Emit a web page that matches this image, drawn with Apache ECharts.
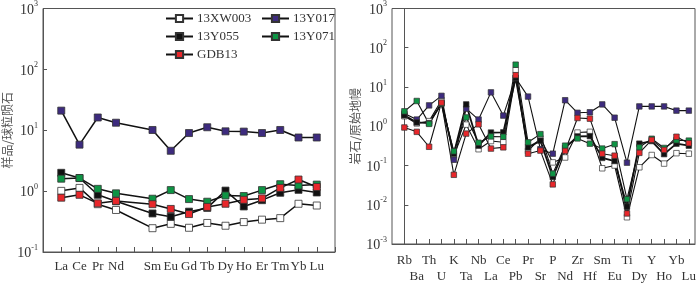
<!DOCTYPE html>
<html><head><meta charset="utf-8">
<script src="https://cdn.jsdelivr.net/npm/echarts@6/dist/echarts.min.js"></script>
<style>html,body{margin:0;padding:0;background:#fff}#c{width:700px;height:285px}</style>
</head><body><div id="c"></div>
<script>
// ---- data ----
const seriesNames = ['13XW003','13Y017','13Y055','13Y071','GDB13'];
// REE chondrite-normalized (Pm has no value)
const reeLabels = ['La','Ce','Pr','Nd','','Sm','Eu','Gd','Tb','Dy','Ho','Er','Tm','Yb','Lu'];
const ree_13XW003 = [1.01,1.13,0.61,0.49,null,0.246,0.29,0.25,0.30,0.27,0.31,0.34,0.36,0.62,0.58];
const ree_13Y017  = [21,5.8,16.2,13.3,null,10.1,4.6,9.0,11.2,9.6,9.5,9.0,10.1,7.6,7.6];
const ree_13Y055  = [2.0,1.64,0.87,0.68,null,0.43,0.38,0.46,0.53,1.02,0.56,0.71,0.94,1.05,0.95];
const ree_13Y071  = [1.6,1.64,1.09,0.92,null,0.75,1.04,0.74,0.67,0.85,0.83,1.04,1.3,1.24,1.28];
const ree_GDB13   = [0.78,0.87,0.63,0.69,null,0.61,0.51,0.42,0.55,0.62,0.72,0.76,1.13,1.55,1.17];
// Spider diagram, primitive-mantle normalized
const spLabels = ['Rb','Ba','Th','U','K','Ta','Nb','La','Ce','Pb','Pr','Sr','P','Nd','Zr','Hf','Sm','Eu','Ti','Dy','Y','Ho','Yb','Lu'];
const sp_13XW003 = [1.8,1.18,1.35,4.6,0.18,1.1,0.26,0.42,0.39,27,0.235,0.49,0.12,0.16,0.69,0.72,0.085,0.1,0.0048,0.09,0.185,0.112,0.206,0.2];
const sp_13Y017  = [2.1,1.48,3.4,5.95,0.14,2.8,1.48,7.3,1.87,17,5.7,0.26,0.2,4.6,2.2,2.27,3.6,1.65,0.118,3.2,3.2,3.2,2.5,2.5];
const sp_13Y055  = [1.9,1.25,1.2,3.8,0.2,3.6,0.32,0.69,0.7,17,0.29,0.43,0.051,0.28,0.55,0.56,0.156,0.13,0.009,0.36,0.42,0.195,0.36,0.32];
const sp_13Y071  = [2.4,4.4,1.15,3.8,0.23,1.68,0.38,0.55,0.54,37,0.39,0.63,0.062,0.32,0.49,0.36,0.27,0.35,0.0139,0.29,0.48,0.28,0.44,0.43];
const sp_GDB13   = [0.93,0.72,0.30,4.0,0.058,0.65,1.12,0.27,0.29,20,0.2,0.24,0.033,0.235,1.62,1.56,0.2,0.178,0.006,0.21,0.45,0.25,0.54,0.37];

// ---- styling ----
const fills = {'13XW003':'#ffffff','13Y017':'#3d2b7e','13Y055':'#111111','13Y071':'#0e9444','GDB13':'#e8272b'};
const reeData = {'13XW003':ree_13XW003,'13Y017':ree_13Y017,'13Y055':ree_13Y055,'13Y071':ree_13Y071,'GDB13':ree_GDB13};
const spData = {'13XW003':sp_13XW003,'13Y017':sp_13Y017,'13Y055':sp_13Y055,'13Y071':sp_13Y071,'GDB13':sp_GDB13};
const serif = 'Liberation Serif';
const axisCol = '#555';
const txtCol = '#333';

function yLabel(v){
  const e = Math.round(Math.log10(v));
  return '{b|10}{s|' + e + '}';
}
const yRich = {
  b:{fontFamily:serif,fontSize:14,color:txtCol,verticalAlign:'bottom'},
  s:{fontFamily:serif,fontSize:8,color:txtCol,verticalAlign:'top',padding:[0,0,9,0]}
};
function yAxis(gridIndex, min, max, name, nameGap){
  return {
    type:'log', gridIndex, min, max, logBase:10,
    axisLine:{show:true,lineStyle:{color:axisCol,width:1}},
    axisTick:{show:true,inside:true,length:4,lineStyle:{color:axisCol}},
    splitLine:{show:false},
    minorTick:{show:false},
    axisLabel:{formatter:yLabel,rich:yRich,margin:5},
    name, nameLocation:'middle', nameGap, nameRotate:90,
    nameTextStyle:{fontFamily:'Noto Sans CJK SC',fontSize:12,color:'#555'}
  };
}

const series = [];
seriesNames.forEach(n=>{
  series.push({
    name:n, type:'line', xAxisIndex:0, yAxisIndex:0,
    data: reeData[n].map((v,i)=>[i+1,v]),
    connectNulls:true,
    symbol:'rect', symbolSize:7,
    lineStyle:{color:'#111',width:1.5},
    itemStyle:{color:fills[n],borderColor:'#333',borderWidth:0.8},
    emphasis:{disabled:true}, animation:false, z:2
  });
  series.push({
    name:n, type:'line', xAxisIndex:1, yAxisIndex:1,
    data: spData[n].map((v,i)=>[i,v]),
    symbol:'rect', symbolSize:5.5,
    lineStyle:{color:'#111',width:n==='13Y055'?1.8:1.1},
    itemStyle:{color:fills[n],borderColor:'#333',borderWidth:0.7},
    emphasis:{disabled:true}, animation:false, z:2
  });
});

const legendBase = {
  orient:'vertical', itemWidth:27, itemHeight:9, itemGap:5,
  textStyle:{fontFamily:serif,fontSize:13,color:txtCol,padding:[0,0,0,-1]},
  selectedMode:false
};

const option = {
  animation:false,
  grid:[
    {left:42, top:4, width:293, height:248, show:true, borderColor:axisCol, borderWidth:1},
    {left:392, top:2, width:303, height:247, show:true, borderColor:axisCol, borderWidth:1}
  ],
  legend:[
    Object.assign({},legendBase,{left:160, top:7, data:['13XW003','13Y055','GDB13']}),
    Object.assign({},legendBase,{left:256, top:7, data:['13Y017','13Y071']})
  ],
  xAxis:[
    {type:'value', gridIndex:0, min:0, max:16, interval:1,
     axisLine:{show:true,lineStyle:{color:axisCol}},
     axisTick:{show:true,inside:true,length:5,lineStyle:{color:axisCol}},
     splitLine:{show:false},
     axisLabel:{margin:8,fontFamily:serif,fontSize:13,color:txtCol,
       formatter:v=>(v>=1&&v<=reeLabels.length)?reeLabels[v-1]:''}},
    {type:'value', gridIndex:1, min:-1, max:23.5, interval:1,
     axisLine:{show:true,lineStyle:{color:axisCol}},
     axisTick:{show:true,inside:true,length:5,lineStyle:{color:axisCol}},
     splitLine:{show:false},
     axisLabel:{margin:9,fontFamily:serif,fontSize:13,color:txtCol,lineHeight:16,
       showMinLabel:false,showMaxLabel:false,
       formatter:v=>{ if(v<0||v>=spLabels.length||v!==Math.round(v)) return ''; return v%2===0?spLabels[v]:'\n'+spLabels[v]; }}}
  ],
  yAxis:[
    yAxis(0,0.1,1000,'样品/球粒陨石',30),
    yAxis(1,0.001,1000,'岩石/原始地幔',31)
  ],
  series
};
const chart = echarts.init(document.getElementById('c'),null,{renderer:'canvas'});
chart.setOption(option);
</script></body></html>
